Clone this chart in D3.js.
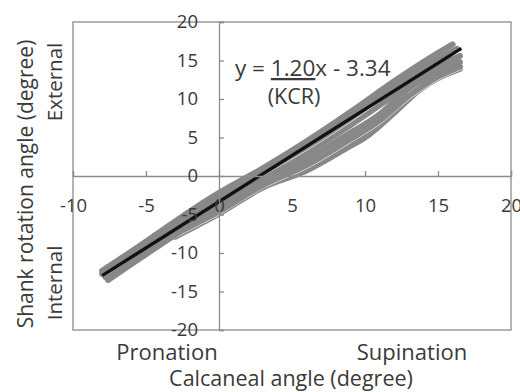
<!DOCTYPE html>
<html lang="en">
<head>
    <meta charset="UTF-8">
    <title>Calcaneal vs shank rotation</title>
    <style>
        body { margin: 0; background: #fff; }
        svg text { font-family: "Open Sans", sans-serif; fill: #3a3a3a; }
    </style>
</head>
<body>
    <div id="chart"></div>
    <script src="https://d3js.org/d3.v7.min.js"></script>
    <script>
        // individual trials (calcaneal angle, shank rotation angle)
        const trial1 = [[-8, -12.3], [-6, -9.8], [-4, -7.2], [-2, -4.6], [0, -2.2], [3, 1.0], [6, 4.5], [9, 8.3], [12, 12.3], [14, 14.8], [16, 17.1]];
        const trial2 = [[-8, -12.7], [-5, -9.0], [-2, -5.2], [0, -2.8], [3, 0.5], [6, 3.8], [9, 7.5], [12, 11.5], [14, 14.0], [16.3, 16.5]];
        const trial3 = [[-7.8, -13.1], [-5, -9.4], [-2, -5.7], [0, -3.4], [3, -0.1], [6, 3.0], [9, 6.6], [12, 10.5], [14, 13.2], [16.5, 15.6]];
        const trial4 = [[-7.6, -13.5], [-4, -8.9], [0, -4.0], [3, -0.7], [6, 2.2], [9, 5.6], [11, 8.0], [13, 11.4], [15, 13.6], [16.5, 14.8]];
        const trial5 = [[-6, -11.3], [-3, -7.6], [0, -4.6], [3, -1.2], [6, 1.4], [9, 4.8], [11, 7.2], [13, 10.4], [15, 12.9], [16.5, 14.2]];
        const trial6 = [[-3, -7.9], [0, -4.9], [3, -1.5], [6, 0.7], [9, 3.9], [10, 5.0], [12, 8.2], [13.8, 11.3], [15, 12.7], [16.5, 13.9]];
        const trials = [trial6, trial5, trial4, trial3, trial2, trial1];
        // trials whose outline leaves a thin light seam in the band
        const seamed = [trial5, trial2];

        // regression y = 1.20x - 3.34
        const slope = 1.20;
        const intercept = -3.34;
        const fitRange = [-8, 16.6];

        const xTicks = [-10, -5, 0, 5, 10, 15, 20];
        const yTicks = [-20, -15, -10, -5, 0, 5, 10, 15, 20];

        const W = 520, H = 392;
        const plotL = 73, plotR = 511, plotT = 22, plotB = 330;

        const svg = d3.select("#chart").append("svg")
            .attr("width", W)
            .attr("height", H);

        const x = d3.scaleLinear().domain([-10, 20]).range([plotL, plotR]);
        const y = d3.scaleLinear().domain([-20, 20]).range([plotB, plotT]);

        // plot frame
        svg.append("rect")
            .attr("x", plotL).attr("y", plotT)
            .attr("width", plotR - plotL).attr("height", plotB - plotT)
            .attr("fill", "none")
            .attr("stroke", "#8c8c8c")
            .attr("stroke-width", 1.3);

        const line = d3.line()
            .x(d => x(d[0]))
            .y(d => y(d[1]))
            .curve(d3.curveMonotoneX);

        trials.forEach(t => {
            if (seamed.includes(t)) {
                svg.append("path").datum(t)
                    .attr("fill", "none").attr("stroke", "#f4f4f4")
                    .attr("stroke-width", 7).attr("stroke-linecap", "round")
                    .attr("d", line);
            }
            svg.append("path").datum(t)
                .attr("fill", "none").attr("stroke", "#888888")
                .attr("stroke-width", 6).attr("stroke-linecap", "round")
                .attr("d", line);
        });

        // fit line
        svg.append("path")
            .datum(fitRange.map(v => [v, slope * v + intercept]))
            .attr("fill", "none")
            .attr("stroke", "#111")
            .attr("stroke-width", 3.4)
            .attr("d", d3.line().x(d => x(d[0])).y(d => y(d[1])));

        // axes through the origin
        const xAxis = svg.append("g")
            .attr("transform", `translate(0,${y(0)})`)
            .call(d3.axisBottom(x).tickValues(xTicks).tickSize(-5).tickPadding(23).tickFormat(d3.format("d")));
        const yAxis = svg.append("g")
            .attr("transform", `translate(${x(0)},0)`)
            .call(d3.axisLeft(y).tickValues(yTicks).tickSize(-5).tickPadding(21).tickFormat(d3.format("d")));

        [xAxis, yAxis].forEach(g => {
            g.select(".domain").attr("stroke", "#8c8c8c").attr("stroke-width", 1.3);
            g.selectAll(".tick line").attr("stroke", "#8c8c8c").attr("stroke-width", 1.3);
            g.selectAll(".tick text")
                .attr("fill", "#3a3a3a")
                .style("font-family", '"Open Sans", sans-serif')
                .style("font-size", "18.5px");
        });
        // minus signs as hyphens, like the original
        svg.selectAll(".tick text").text(function () { return d3.select(this).text().replace("\u2212", "-"); });

        // axis titles
        svg.append("text")
            .attr("transform", "translate(33,184) rotate(-90)")
            .attr("text-anchor", "middle")
            .style("font-size", "21px")
            .text("Shank rotation angle (degree)");
        svg.append("text")
            .attr("transform", "translate(62,82) rotate(-90)")
            .attr("text-anchor", "middle")
            .style("font-size", "20.5px")
            .text("External");
        svg.append("text")
            .attr("transform", "translate(62,283) rotate(-90)")
            .attr("text-anchor", "middle")
            .style("font-size", "20.5px")
            .text("Internal");

        svg.append("text")
            .attr("x", 291).attr("y", 386)
            .attr("text-anchor", "middle")
            .style("font-size", "21.5px")
            .text("Calcaneal angle (degree)");
        svg.append("text")
            .attr("x", 167).attr("y", 360)
            .attr("text-anchor", "middle")
            .style("font-size", "22px")
            .text("Pronation");
        svg.append("text")
            .attr("x", 412).attr("y", 360)
            .attr("text-anchor", "middle")
            .style("font-size", "22px")
            .text("Supination");

        // equation annotation
        const eq = svg.append("text")
            .attr("x", 235).attr("y", 76)
            .style("font-size", "22.5px");
        eq.append("tspan").text("y = ");
        eq.append("tspan").attr("text-decoration", "underline").text("1.20");
        eq.append("tspan").text("x - 3.34");
        svg.append("text")
            .attr("x", 294).attr("y", 104)
            .attr("text-anchor", "middle")
            .style("font-size", "21.5px")
            .text("(KCR)");
    </script>
</body>
</html>
